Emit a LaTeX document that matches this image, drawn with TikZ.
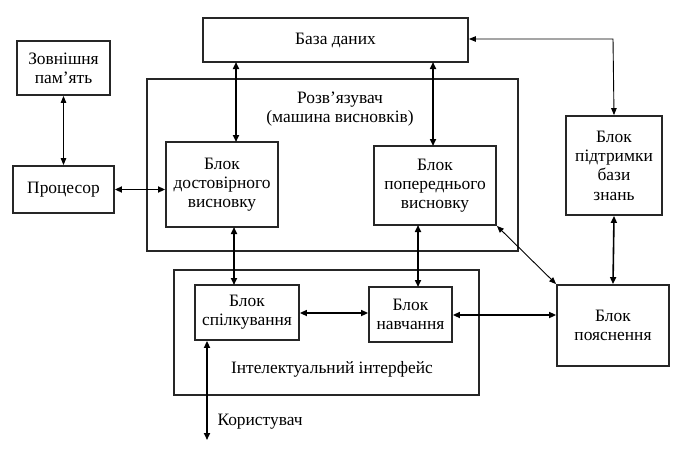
\documentclass[tikz,border=0pt]{standalone}
\usepackage{fontspec}
\setmainfont{Liberation Serif}
\usetikzlibrary{arrows.meta}
\begin{document}
\begin{tikzpicture}[x=1pt,y=-1pt,
  blk/.style={draw=black!85,line width=1.8pt,align=center,inner sep=0pt,font=\fontsize{17.4}{19.3}\selectfont},
  grp/.style={draw=black!85,line width=1.8pt},
  lbl/.style={align=center,font=\fontsize{17.4}{19.3}\selectfont},
  thk/.style={line width=1.6pt,{Triangle[length=7pt,width=6pt]}-{Triangle[length=7pt,width=6pt]}},
  thn/.style={line width=0.9pt,{Triangle[length=7pt,width=5.5pt]}-{Triangle[length=7pt,width=5.5pt]}}]
\useasboundingbox (0,0) rectangle (687,458);
% group frames
\draw[grp] (147,79) rectangle (518,251);
\draw[grp] (174,270) rectangle (479,395);
\node[lbl] (rozv) at (340,109) {Розв’язувач\\(машина висновків)};
\node[lbl] (intf) at (332,369) {Інтелектуальний інтерфейс};
% blocks
\node[blk,minimum width=93pt,minimum height=54pt] (mem) at (63.5,68) {Зовнішня\\пам’ять};
\node[blk,minimum width=101pt,minimum height=47pt] (cpu) at (63.5,189.5) {Процесор};
\node[blk,minimum width=265pt,minimum height=44pt] (db) at (335.5,40) {База даних};
\node[blk,minimum width=112pt,minimum height=85pt] (dost) at (222,184.5) {Блок\\достовірного\\висновку};
\node[blk,minimum width=122pt,minimum height=79pt] (pop) at (435,185.5) {Блок\\попереднього\\висновку};
\node[blk,minimum width=96pt,minimum height=99pt] (pidt) at (614,165.5) {Блок\\підтримки\\бази\\знань};
\node[blk,minimum width=104pt,minimum height=55pt] (spil) at (247,312.5) {Блок\\спілкування};
\node[blk,minimum width=83pt,minimum height=55pt] (navch) at (410.5,314.5) {Блок\\навчання};
\node[blk,minimum width=112pt,minimum height=81pt] (poyas) at (613,325.5) {Блок\\пояснення};
\coordinate (user) at (207,440);
\node[lbl,anchor=west] (userlbl) at (214,422) {Користувач};
% connectors
\draw[thn] (mem.south) -- (cpu.north);
\draw[thk] (cpu.east) -- (cpu.east -| dost.west);
\draw[thk] (236,62) -- (236,142);
\draw[thk] (433,62) -- (433,146);
\draw[thn] (db.east |- 0,39) -- (613,39) -- (pidt.north);
\draw[thk] (pidt.south) -- (poyas.north);
\draw[thk] (234,227) -- (234,285);
\draw[thk] (418,225) -- (418,287);
\draw[thk] (spil.east |- 0,313) -- (navch.west |- 0,313);
\draw[thk] (navch.east |- 0,315) -- (poyas.west |- 0,315);
\draw[thn] (pop.south east) -- (poyas.north west);
\draw[thk] (spil.south -| user) -- (user);
\end{tikzpicture}
\end{document}
